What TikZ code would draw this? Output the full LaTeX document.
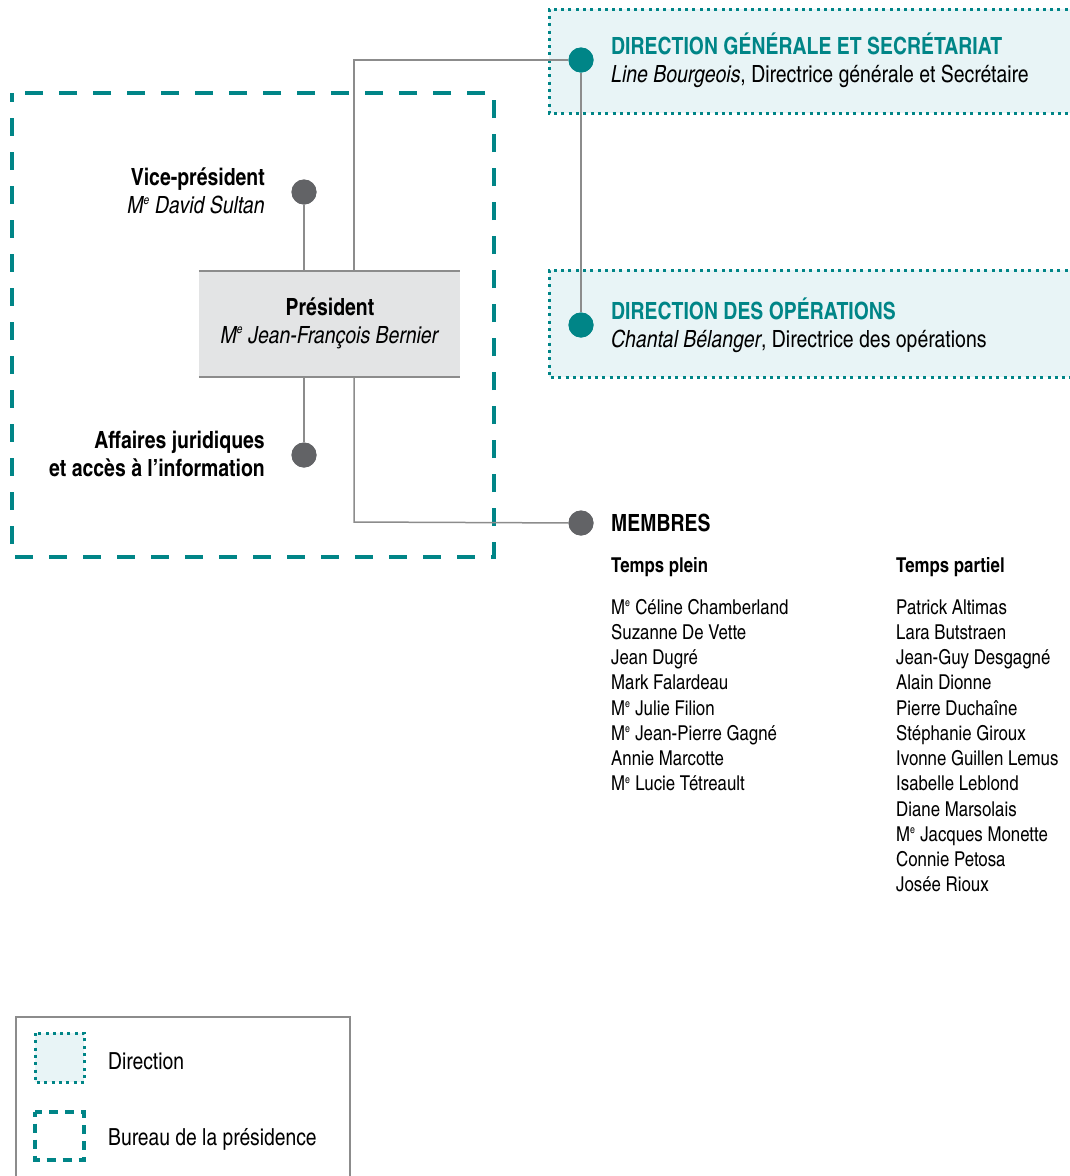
\documentclass[tikz,border=0pt]{standalone}
\usepackage{fontspec}
\setmainfont{texgyreheroscn}[Extension=.otf, UprightFont=*-regular, BoldFont=*-bold, ItalicFont=*-italic, BoldItalicFont=*-bolditalic]
\usepackage{xcolor}
\usepackage{graphicx}
\definecolor{teal}{RGB}{0,133,135}
\definecolor{tealbg}{RGB}{232,244,246}
\definecolor{dotgrey}{RGB}{98,99,102}
\definecolor{linegrey}{RGB}{140,140,140}
\definecolor{presbg}{RGB}{227,228,229}
\newcommand{\me}{M\textsuperscript{\scalebox{0.75}{e}}}

\begin{document}
\begin{tikzpicture}[x=1pt,y=-1pt,
    link/.style={draw=linegrey,line width=1.5pt},
    greydot/.style={circle,fill=dotgrey,minimum size=25pt,inner sep=0pt},
    tealdot/.style={circle,fill=teal,minimum size=25pt,inner sep=0pt},
    dirbox/.style={fill=tealbg,draw=teal,line width=3pt,dash pattern=on 3pt off 4.3pt},
    bureau/.style={draw=teal,line width=4pt,dash pattern=on 18pt off 16pt,dash phase=9pt},
    txt/.style={inner sep=0pt,font=\fontsize{20.5}{25.25}\selectfont},
    head/.style={inner sep=0pt,font=\fontsize{23.7}{28}\selectfont},
    legend/.style={inner sep=0pt,font=\fontsize{23.5}{28}\selectfont}]
    \useasboundingbox (0,0) rectangle (1069,1176);
    % boxes
    \path[dirbox] (1075,9) -- (549,9) -- (549,113) -- (1075,113);
    \path[dirbox] (1075,270) -- (549,270) -- (549,377) -- (1075,377);
    \draw[bureau] (12,93) rectangle (494,557);
    \node[fill=presbg,minimum width=261pt,minimum height=106pt,inner sep=0pt] (pres) at (329.5,324) {};
    \draw[draw=linegrey,line width=2pt] (pres.north west) -- (pres.north east);
    \draw[draw=linegrey,line width=2pt] (pres.south west) -- (pres.south east);
    % dots
    \coordinate (jTop) at (354,60);
    \coordinate (jBot) at (354,522);
    \node[tealdot] (dotDG) at (581,60) {};
    \node[tealdot] (dotOps) at (581,325) {};
    \node[greydot] (dotVP) at (304,192) {};
    \node[greydot] (dotAJ) at (304,455) {};
    \node[greydot] (dotMem) at (581,523) {};
    \draw[link] (dotVP) -- (dotVP |- pres.north);
    \draw[link] (dotAJ) -- (dotAJ |- pres.south);
    \draw[link] (pres.north -| jTop) -- (jTop) -- (dotDG);
    \draw[link] (dotDG) -- (dotOps);
    \draw[link] (pres.south -| jBot) -- (jBot) -- (dotMem);
    \node[tealdot] at (dotDG) {};
    \node[tealdot] at (dotOps) {};
    \node[greydot] at (dotVP) {};
    \node[greydot] at (dotAJ) {};
    \node[greydot] at (dotMem) {};
    % labels (base = last line)
    \node[head,anchor=base east,align=right] (vp) at (265,213.3)
        {\textbf{Vice-président}\\\textit{\me{} David Sultan}};
    \node[head,anchor=base,align=center] (presLbl) at (330,343)
        {\textbf{Président}\\\textit{\me{} Jean-François Bernier}};
    \node[head,anchor=base east,align=right] (aj) at (265,476.5)
        {\textbf{Affaires juridiques}\\\textbf{et accès à l’information}};
    \node[head,anchor=base west,align=left] (dg) at (611,82)
        {\textcolor{teal}{\textbf{DIRECTION GÉNÉRALE ET SECRÉTARIAT}}\\\textit{Line Bourgeois}, Directrice générale et Secrétaire};
    \node[head,anchor=base west,align=left] (ops) at (611,347)
        {\textcolor{teal}{\textbf{DIRECTION DES OPÉRATIONS}}\\\textit{Chantal Bélanger}, Directrice des opérations};
    \node[head,anchor=base west] (mem) at (611,531.5) {\textbf{MEMBRES}};
    \node[txt,anchor=base west] (plein) at (611,572.5) {\textbf{Temps plein}};
    \node[txt,anchor=base west] (partiel) at (896,572.5) {\textbf{Temps partiel}};
    \foreach \nm [count=\i from 0] in {\me{} Céline Chamberland,Suzanne De Vette,Jean Dugré,Mark Falardeau,\me{} Julie Filion,\me{} Jean-Pierre Gagné,Annie Marcotte,\me{} Lucie Tétreault}
        \node[txt,anchor=base west] (tp\i) at (611,614+\i*25.25) {\nm};
    \foreach \nm [count=\i from 0] in {Patrick Altimas,Lara Butstraen,Jean-Guy Desgagné,Alain Dionne,Pierre Duchaîne,Stéphanie Giroux,Ivonne Guillen Lemus,Isabelle Leblond,Diane Marsolais,\me{} Jacques Monette,Connie Petosa,Josée Rioux}
        \node[txt,anchor=base west] (tpa\i) at (896,614+\i*25.25) {\nm};
    % legend
    \draw[draw=linegrey,line width=1.5pt] (16,1180) -- (16,1017) -- (350,1017) -- (350,1180);
    \path[dirbox] (35,1033) rectangle (84,1082);
    \draw[draw=teal,line width=4pt,dash pattern=on 9pt off 7pt,dash phase=4.5pt] (35,1112) rectangle (84,1160);
    \node[legend,anchor=base west] (legDir) at (108,1069) {Direction};
    \node[legend,anchor=base west] (legBur) at (108,1145) {Bureau de la présidence};
\end{tikzpicture}
\end{document}
